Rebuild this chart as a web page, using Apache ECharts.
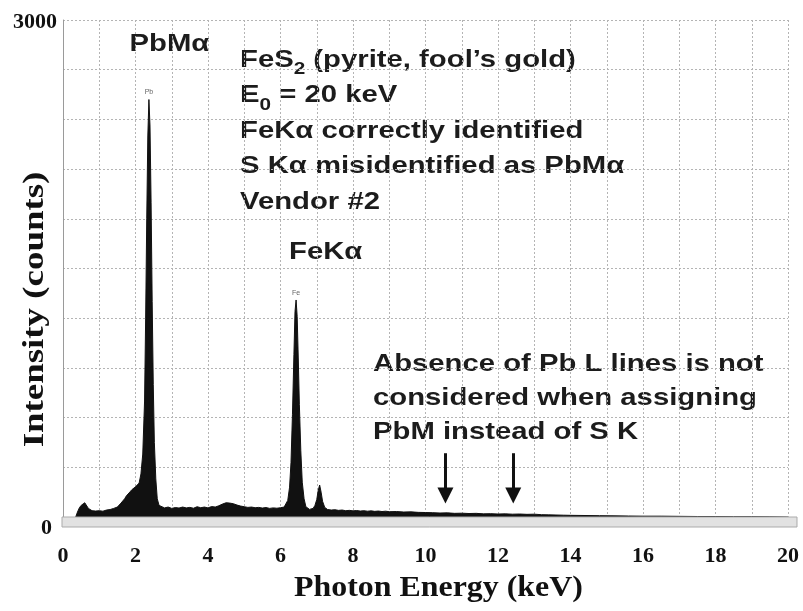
<!DOCTYPE html>
<html><head><meta charset="utf-8">
<script src="https://cdn.jsdelivr.net/npm/echarts@6/dist/echarts.min.js"></script>
<style>html,body{margin:0;padding:0;background:#fff}#c{width:803px;height:611px}</style>
</head><body><div id="c"></div>
<script>
// Spectrum: photon energy (keV) and intensity (counts)
const energies = [0.35,0.40,0.45,0.50,0.55,0.60,0.65,0.70,0.75,0.80,0.90,1.00,1.10,1.20,1.30,1.40,1.50,1.60,1.70,1.75,1.80,1.85,1.90,1.95,2.00,2.05,2.10,2.15,2.20,2.25,2.28,2.31,2.34,2.37,2.40,2.43,2.46,2.49,2.52,2.56,2.60,2.65,2.70,2.80,2.90,3.00,3.10,3.20,3.30,3.40,3.50,3.60,3.70,3.80,3.90,4.00,4.10,4.20,4.30,4.40,4.50,4.60,4.70,4.80,4.90,5.00,5.10,5.20,5.30,5.40,5.50,5.60,5.70,5.80,5.90,6.00,6.10,6.15,6.20,6.25,6.29,6.33,6.37,6.40,6.43,6.46,6.49,6.52,6.56,6.60,6.65,6.70,6.80,6.90,6.95,7.00,7.04,7.08,7.12,7.16,7.22,7.30,7.40,7.50,7.60,7.70,7.80,7.90,8.00,8.10,8.20,8.30,8.40,8.50,8.60,8.70,8.80,8.90,9.00,9.20,9.40,9.60,9.80,10.0,10.2,10.4,10.6,10.8,11.0,11.2,11.4,11.6,11.8,12.0,12.2,12.4,12.6,12.8,13.0,13.2,13.4,13.6,13.8,14.0,14.4,14.8,15.2,15.6,16.0,16.5,17.0,17.5,18.0,18.5,19.0,19.5,20.0];
const counts   = [0,30,55,70,82,86,75,52,40,38,36,38,35,42,45,52,60,84,110,128,140,152,165,175,182,190,205,260,380,700,1200,1800,2300,2520,2360,1900,1300,800,450,230,110,70,58,55,60,52,57,54,60,55,58,53,62,56,60,55,63,60,68,78,86,84,80,72,66,62,58,60,56,58,54,57,52,55,53,56,60,66,100,180,330,620,980,1240,1310,1210,960,680,400,210,110,62,46,52,70,105,160,193,150,95,58,45,42,44,40,42,38,40,37,39,36,38,35,37,34,36,33,35,32,33,30,31,28,27,26,24,25,22,23,21,22,19,20,18,19,17,18,16,17,14,13,12,11,10,9,8,7,6,5,5,4,3,3,2,2,1,0];

// Small peak tags drawn by the acquisition software
const peakTags = ['Pb','Fe'];
const peakTagEnergy = [2.37, 6.43];
const peakTagCount = [2520, 1310];

// Arrows marking where Pb L lines would be
const arrowEnergy = [10.55, 12.42];
const arrowTopCount = 385;
const arrowTipCount = 130;

// Axis tick labels
const yTickLabels = ['0', '3000'];

// Annotation texts
const peakLabel1 = 'PbMα';
const peakLabel2 = 'FeKα';
const infoLines = ['{m|FeS}{s|2}{m| (pyrite, fool’s gold)}', '{m|E}{s|0}{m| = 20 keV}', '{m|FeKα correctly identified}', '{m|S Kα misidentified as PbMα}', '{m|Vendor #2}'];
const noteLines = ['Absence of Pb L lines is not', 'considered when assigning', 'PbM instead of S K'];
const xTitle = 'Photon Energy (keV)';
const yTitle = 'Intensity (counts)';

const seriesData = energies.map((e, i) => [e, counts[i]]);
const serif = 'Liberation Serif';
const sans = 'Liberation Sans';
const ink = '#1c1c1c';
const gridStyle = { color: '#b4b4b4', width: 1, type: [2, 2] };

const chart = echarts.init(document.getElementById('c'), null, { renderer: 'canvas' });
chart.setOption({
  animation: false,
  backgroundColor: '#ffffff',
  grid: { left: 63, right: 15, top: 20, bottom: 94, containLabel: false },
  xAxis: {
    type: 'value', min: 0, max: 20, interval: 2,
    axisLine: { show: false },
    axisTick: { show: false },
    minorTick: { show: false, splitNumber: 2 },
    splitLine: { show: true, lineStyle: gridStyle },
    minorSplitLine: { show: true, lineStyle: gridStyle },
    axisLabel: { margin: 28, fontFamily: serif, fontWeight: 'bold', fontSize: 22, color: '#111' }
  },
  yAxis: {
    type: 'value', min: 0, max: 3000, interval: 300,
    axisLine: { show: true, lineStyle: { color: '#9a9a9a', width: 1 } },
    axisTick: { show: false },
    splitLine: { show: true, lineStyle: gridStyle },
    axisLabel: {
      margin: 6,
      formatter: function (v) {
        if (v === 0) return '{z|' + yTickLabels[0] + '}';
        if (v === 3000) return '{t|' + yTickLabels[1] + '}';
        return '';
      },
      rich: {
        z: { fontFamily: serif, fontWeight: 'bold', fontSize: 22, color: '#111', padding: [22, 5, 0, 0] },
        t: { fontFamily: serif, fontWeight: 'bold', fontSize: 22, color: '#111', padding: [5, 0, 0, 0] }
      }
    }
  },
  series: [{
    type: 'line',
    data: seriesData,
    showSymbol: false,
    symbol: 'none',
    lineStyle: { color: '#111', width: 1 },
    areaStyle: { color: '#111', opacity: 1 },
    itemStyle: { color: '#111' },
    silent: true,
    markPoint: {
      symbol: 'circle', symbolSize: 1,
      itemStyle: { color: 'rgba(0,0,0,0)' },
      label: { show: true, position: 'top', distance: 3, formatter: '{b}', fontSize: 7, color: '#666', fontFamily: sans },
      data: peakTags.map((t, i) => ({ name: t, coord: [peakTagEnergy[i], peakTagCount[i]] }))
    },
    markLine: {
      silent: true,
      symbol: ['none', 'triangle'],
      symbolSize: [16, 16],
      label: { show: false },
      lineStyle: { color: '#111', width: 3, type: 'solid' },
      data: arrowEnergy.map(e => [{ coord: [e, arrowTopCount] }, { coord: [e, arrowTipCount] }])
    }
  }],
  graphic: [
    { type: 'rect', z: 10, shape: { x: 62, y: 517, width: 735, height: 10 },
      style: { fill: '#e2e2e2', stroke: '#ababab', lineWidth: 1 } },
    { type: 'text', x: 129.5, y: 44, scaleX: 1.22,
      style: { text: peakLabel1, fontFamily: sans, fontWeight: 'bold', fontSize: 24, fill: ink, align: 'left', verticalAlign: 'middle' } },
    { type: 'text', x: 289, y: 252.7, scaleX: 1.22,
      style: { text: peakLabel2, fontFamily: sans, fontWeight: 'bold', fontSize: 24, fill: ink, align: 'left', verticalAlign: 'middle' } },
    { type: 'text', x: 240, y: 42.5, scaleX: 1.22,
      style: {
        text: infoLines.join('\n'), align: 'left', verticalAlign: 'top',
        rich: {
          m: { fontFamily: sans, fontWeight: 'bold', fontSize: 24, lineHeight: 35.5, fill: ink },
          s: { fontFamily: sans, fontWeight: 'bold', fontSize: 17, lineHeight: 16, verticalAlign: 'bottom', fill: ink }
        }
      } },
    { type: 'text', x: 373, y: 347.5, scaleX: 1.22,
      style: { text: noteLines.join('\n'), fontFamily: sans, fontWeight: 'bold', fontSize: 24, lineHeight: 34, fill: ink, align: 'left', verticalAlign: 'top' } },
    { type: 'text', x: 294, y: 588.5, scaleX: 1.1,
      style: { text: xTitle, fontFamily: serif, fontWeight: 'bold', fontSize: 29, fill: '#111', align: 'left', verticalAlign: 'middle' } },
    { type: 'text', x: 35.6, y: 309.5, rotation: Math.PI / 2, scaleX: 1.23,
      style: { text: yTitle, fontFamily: serif, fontWeight: 'bold', fontSize: 30, fill: '#111', align: 'center', verticalAlign: 'middle' } }
  ]
});
</script></body></html>
